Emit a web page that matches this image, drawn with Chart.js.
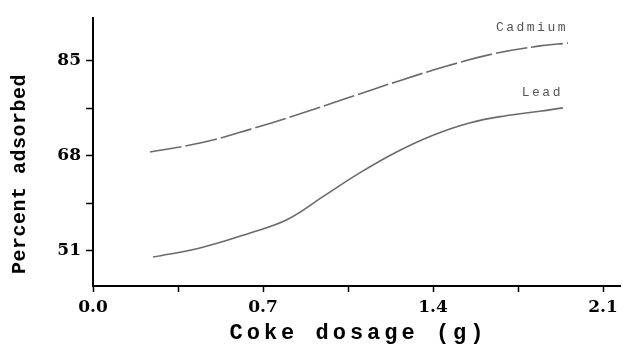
<!DOCTYPE html>
<html lang="en">
<head>
    <title>Percent adsorbed vs coke dosage</title>
    <meta charset="UTF-8">
    <script src="https://cdn.jsdelivr.net/npm/chart.js"></script>
    <style>
        html, body {
            margin: 0;
            padding: 0;
            background: #fff;
        }

        .wrap {
            width: 623px;
            height: 350px;
        }
    </style>
</head>
<body>
<div class="wrap">
    <canvas id="adsorption" width="623" height="350"></canvas>
</div>
<script>
    // values
    const cadmiumDose = [0.235, 0.45, 0.65, 0.85, 1.05, 1.25, 1.45, 1.65, 1.84, 1.956];
    const cadmiumPct = [68.7, 70.4, 72.8, 75.5, 78.4, 81.3, 84.0, 86.3, 87.7, 88.2];
    const leadDose = [0.247, 0.44, 0.647, 0.80, 0.95, 1.10, 1.25, 1.40, 1.55, 1.70, 1.84, 1.935];
    const leadPct = [49.9, 51.5, 54.2, 56.6, 60.8, 65.0, 68.7, 71.7, 73.9, 75.2, 76.0, 76.6];

    const xTicks = [0, 0.35, 0.7, 1.05, 1.4, 1.75, 2.1];
    const xLabels = ['0.0', '', '0.7', '', '1.4', '', '2.1'];
    const yTicks = [51, 59.5, 68, 76.5, 85];
    const yLabels = ['51', '', '68', '', '85'];

    function points(xs, ys) {
        return xs.map(function (x, i) { return {x: x, y: ys[i]}; });
    }

    // wide typewriter-ish look for the axis titles, nudged a bit
    function spreadTitle(axis, spacing, dx, dy) {
        if (axis._spread) return;
        axis._spread = true;
        const orig = axis.drawTitle;
        axis.drawTitle = function () {
            const c = this.ctx;
            c.save();
            c.letterSpacing = spacing;
            c.translate(dx, dy);
            orig.apply(this, arguments);
            c.restore();
        };
    }

    // writes the series name just above the end of each curve
    const endLabels = {
        id: 'endLabels',
        afterDatasetsDraw(chart) {
            const ctx = chart.ctx;
            ctx.save();
            ctx.font = '13px "Liberation Mono"';
            ctx.letterSpacing = '2.5px';
            ctx.fillStyle = '#555';
            ctx.textAlign = 'right';
            ctx.textBaseline = 'alphabetic';
            chart.data.datasets.forEach(function (ds, i) {
                const pts = chart.getDatasetMeta(i).data;
                const last = pts[pts.length - 1];
                ctx.fillText(ds.label, last.x, last.y - 12);
            });
            ctx.restore();
        }
    };

    const ctx = document.getElementById('adsorption').getContext('2d');
    new Chart(ctx, {
        type: 'scatter',
        data: {
            datasets: [{
                label: 'Cadmium',
                data: points(cadmiumDose, cadmiumPct),
                showLine: true,
                borderColor: '#6a6a6a',
                borderWidth: 1.6,
                borderDash: [32, 4],
                pointRadius: 0,
                tension: 0.4
            }, {
                label: 'Lead',
                data: points(leadDose, leadPct),
                showLine: true,
                borderColor: '#6a6a6a',
                borderWidth: 1.6,
                pointRadius: 0,
                tension: 0.4
            }]
        },
        options: {
            responsive: false,
            animation: false,
            layout: {padding: {top: 18, right: 3, left: 0, bottom: 0}},
            plugins: {
                legend: {display: false},
                tooltip: {enabled: false}
            },
            scales: {
                x: {
                    type: 'linear',
                    min: 0,
                    max: 2.17,
                    afterBuildTicks: function (axis) {
                        axis.ticks = xTicks.map(function (v) { return {value: v}; });
                    },
                    afterFit: function (axis) {
                        axis.height = 64;
                        spreadTitle(axis, '4px', 2, -3);
                    },
                    border: {display: true, color: '#000', width: 2},
                    grid: {drawOnChartArea: false, drawTicks: true, tickLength: 6, tickColor: '#000', tickWidth: 1.5},
                    ticks: {
                        color: '#000',
                        padding: 5,
                        maxRotation: 0,
                        autoSkip: false,
                        font: {family: '"DejaVu Serif"', size: 17, weight: 'bold'},
                        callback: function (v, i) { return xLabels[i]; }
                    },
                    title: {
                        display: true,
                        text: 'Coke dosage (g)',
                        color: '#000',
                        padding: {top: 0, bottom: 0},
                        font: {family: '"Liberation Mono"', size: 22, weight: 'bold'}
                    }
                },
                y: {
                    min: 44.7,
                    max: 92.7,
                    afterBuildTicks: function (axis) {
                        axis.ticks = yTicks.map(function (v) { return {value: v}; });
                    },
                    afterFit: function (axis) {
                        axis.width = 93;
                        spreadTitle(axis, '0.5px', 0, 22);
                    },
                    border: {display: true, color: '#000', width: 2},
                    grid: {drawOnChartArea: false, drawTicks: true, tickLength: 7, tickColor: '#000', tickWidth: 1.5},
                    ticks: {
                        color: '#000',
                        padding: 5,
                        autoSkip: false,
                        font: {family: '"DejaVu Serif"', size: 17, weight: 'bold'},
                        callback: function (v, i) { return yLabels[i]; }
                    },
                    title: {
                        display: true,
                        text: 'Percent adsorbed',
                        color: '#000',
                        padding: {top: 8, bottom: 0},
                        font: {family: '"Liberation Mono"', size: 20, weight: 'bold'}
                    }
                }
            }
        },
        plugins: [endLabels]
    });
</script>
</body>
</html>
